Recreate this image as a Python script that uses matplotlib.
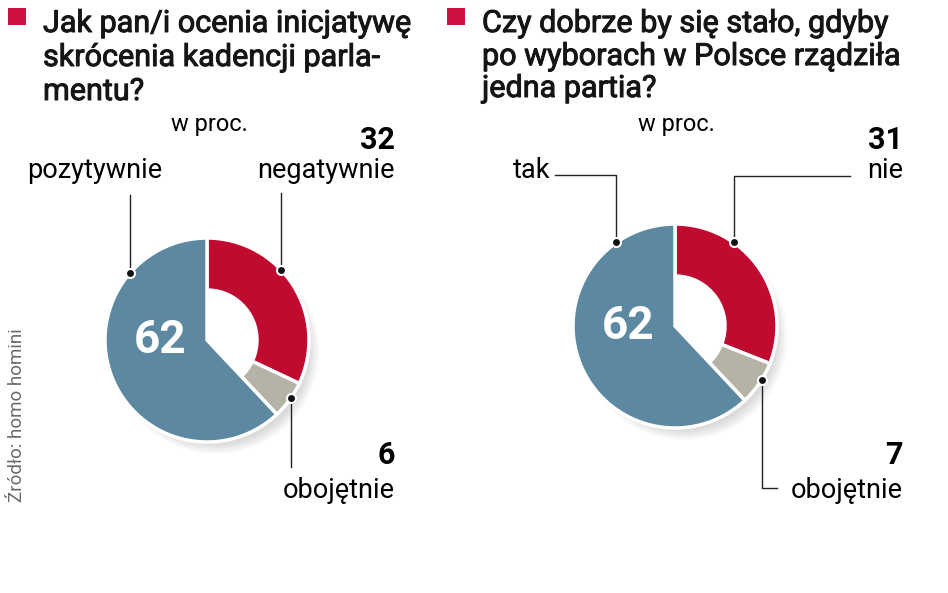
import numpy as np
import matplotlib.pyplot as plt
import matplotlib.patheffects as pe

plt.rcParams['font.family'] = ['Roboto', 'DejaVu Sans']

# dane z wykresu (w proc.)
q1_title = ['Jak pan/i ocenia inicjatywę', 'skrócenia kadencji parla-', 'mentu?']
q1_labels = ['negatywnie', 'obojętnie', 'pozytywnie']
q1_values = [32, 6, 62]

q2_title = ['Czy dobrze by się stało, gdyby', 'po wyborach w Polsce rządziła', 'jedna partia?']
q2_labels = ['nie', 'obojętnie', 'tak']
q2_values = [31, 7, 62]

colors = ['#c00a30', '#b4b3a6', '#5c88a1']
red_mark = '#d01040'

W, H = 948, 593
R, R_IN = 102, 50


def Y(y):
    # wspolrzedne obrazka (y w dol) -> osie
    return H - y


fig = plt.figure(figsize=(W / 100, H / 100), dpi=100)
ax = fig.add_axes([0, 0, 1, 1])


def donut(cx, cy, values):
    # cien pod spodem
    for k in range(8):
        c = plt.Circle((cx + 9, Y(cy) - 11), R + 1 - k * 1.5, color='#777777',
                       alpha=0.035, lw=0, zorder=0)
        ax.add_patch(c)
    ax.add_patch(plt.Circle((cx, Y(cy)), R - 5, color='white', lw=0, zorder=1))
    wedges, _ = ax.pie(values, colors=colors, startangle=90, counterclock=False,
                       radius=R, center=(cx, Y(cy)),
                       wedgeprops=dict(edgecolor='white', linewidth=2.5))
    for w in wedges[:2]:
        w.set_width(R - R_IN)
    for w in wedges:
        w.set_zorder(2)
    ax.text(cx - 47, Y(cy), str(values[2]), color='white', fontsize=33,
            fontweight='bold', ha='center', va='center', zorder=3)


def dot(cx, cy, ang):
    a = np.deg2rad(ang)
    x, y = cx + R * np.cos(a), Y(cy) + R * np.sin(a)
    ax.plot(x, y, 'o', ms=6.5, color='#111111', mec='white', mew=1.5, zorder=5)
    return x, y


def header(x, lines, baselines):
    ax.add_patch(plt.Rectangle((x - 35, Y(25)), 18, 17, color=red_mark, lw=0))
    for txt, b in zip(lines, baselines):
        ax.text(x, Y(b), txt, fontsize=22, va='baseline', ha='left',
                color='#151515',
                path_effects=[pe.withStroke(linewidth=0.7, foreground='#151515')])


# ---- wykres 1 ----
cx1, cy1 = 207, 340
header(43, q1_title, [32, 66, 100])
ax.text(209, Y(125), 'w proc.', fontsize=17, ha='center', va='center')
donut(cx1, cy1, q1_values)

ax.text(395, Y(140), str(q1_values[0]), fontsize=22, fontweight='bold',
        ha='right', va='center')
ax.text(395, Y(171), q1_labels[0], fontsize=19.5, ha='right', va='center')
ax.text(27, Y(171), q1_labels[2], fontsize=19.5, ha='left', va='center')
ax.text(395, Y(455), str(q1_values[1]), fontsize=22, fontweight='bold',
        ha='right', va='center')
ax.text(395, Y(490), q1_labels[1], fontsize=19.5, ha='right', va='center')

x, y = dot(cx1, cy1, 43.5)
ax.plot([x, x], [y, Y(193)], color='#222222', lw=1, zorder=4)
x, y = dot(cx1, cy1, 139)
ax.plot([x, x], [y, Y(195)], color='#222222', lw=1, zorder=4)
x, y = dot(cx1, cy1, -34.6)
ax.plot([x, x], [y, Y(467)], color='#222222', lw=1, zorder=4)

ax.text(17, Y(415), 'Źródło: homo homini', fontsize=13.5, rotation=90,
        ha='center', va='center', color='#6a6a6a')

# ---- wykres 2 ----
cx2, cy2 = 675, 326
header(482, q2_title, [32, 65, 97])
ax.text(676, Y(125), 'w proc.', fontsize=17, ha='center', va='center')
donut(cx2, cy2, q2_values)

ax.text(903, Y(140), str(q2_values[0]), fontsize=22, fontweight='bold',
        ha='right', va='center')
ax.text(903, Y(171), q2_labels[0], fontsize=19.5, ha='right', va='center')
ax.text(513, Y(171), q2_labels[2], fontsize=19.5, ha='left', va='center')
ax.text(903, Y(455), str(q2_values[1]), fontsize=22, fontweight='bold',
        ha='right', va='center')
ax.text(903, Y(490), q2_labels[1], fontsize=19.5, ha='right', va='center')

x, y = dot(cx2, cy2, 55)
ax.plot([x, x, 850], [y, Y(176), Y(176)], color='#222222', lw=1, zorder=4)
x, y = dot(cx2, cy2, 125)
ax.plot([x, x, 555], [y, Y(175), Y(175)], color='#222222', lw=1, zorder=4)
x, y = dot(cx2, cy2, -31.8)
ax.plot([x, x, 777], [y, Y(488), Y(488)], color='#222222', lw=1, zorder=4)

ax.set_xlim(0, W)
ax.set_ylim(0, H)
ax.set_aspect('auto')
ax.axis('off')

fig.savefig('out.png', dpi=100, facecolor='white')
